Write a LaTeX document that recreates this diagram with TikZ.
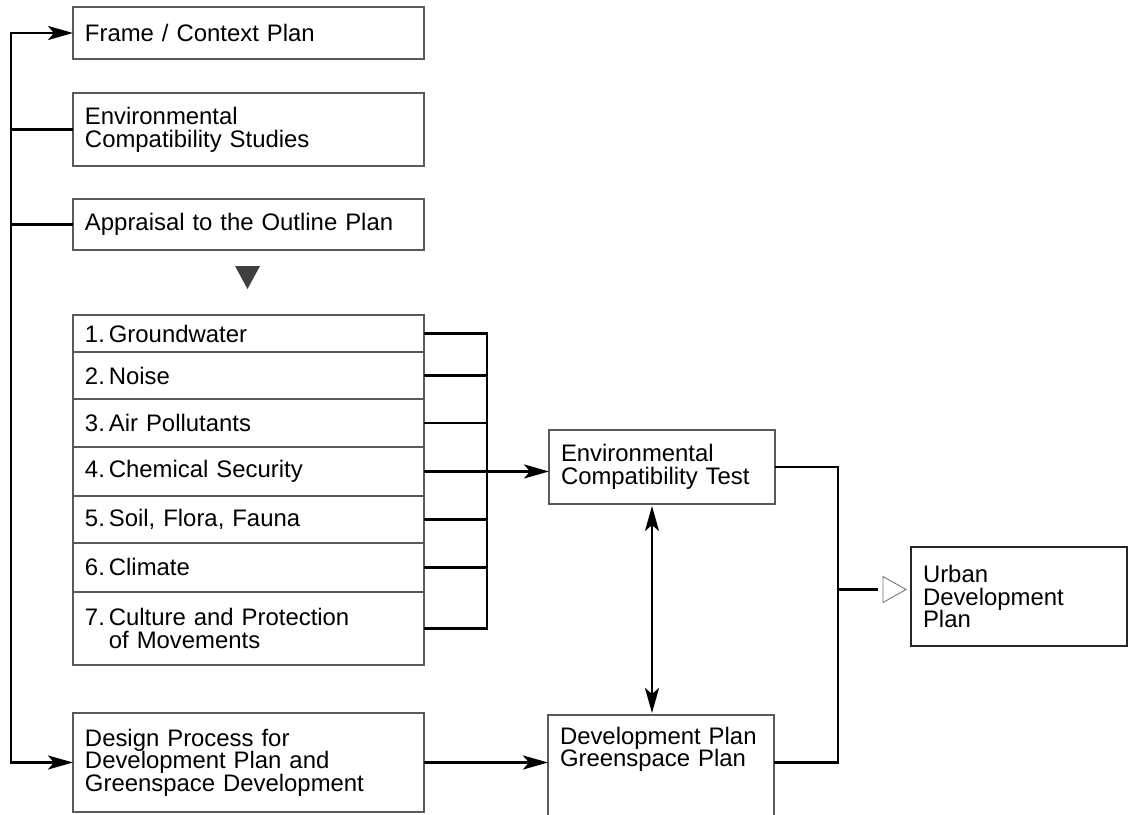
\documentclass[tikz,border=0pt]{standalone}
\usepackage{fontspec}
\setmainfont{Liberation Sans}
\usepackage{tikz}
\usetikzlibrary{arrows.meta, positioning, calc}

\begin{document}
\begin{tikzpicture}[
        x=0.02cm, y=-0.02cm,
        >={Stealth[length=0.5cm, width=0.28cm, inset=0.12cm]},
        boxstyle/.style={
            rectangle,
            draw=black!65,
            line width=0.7pt,
            anchor=north west,
            outer sep=0pt,
            inner xsep=0.24cm,
            inner ysep=0pt,
            align=left,
            font=\fontsize{13.6pt}{12.9pt}\selectfont
        },
        widebox/.style={boxstyle, minimum width=7.02cm, text width=6.54cm},
        rowbox/.style={widebox, anchor=north},
        midbox/.style={boxstyle, minimum width=4.52cm, text width=4.04cm},
        conn/.style={line width=1.6pt, color=black}
    ]
        \useasboundingbox (0,0) rectangle (1128,814);

        % left column
        \node[widebox, minimum height=1.04cm] (frame) at (73,7) {Frame / Context Plan};
        \node[widebox, minimum height=1.46cm] (studies) at (73,93) {Environmental\\Compatibility Studies};
        \node[widebox, minimum height=1.02cm] (appraisal) at (73,199) {Appraisal to the Outline Plan};
        \fill[black!75] (235,266) -- (260,266) -- (247.5,289) -- cycle;

        \node[widebox, minimum height=0.74cm] (r1) at (73,315) {1.\,Groundwater};
        \node[rowbox, minimum height=0.94cm, below=0pt of r1] (r2) {2.\,Noise};
        \node[rowbox, minimum height=0.96cm, below=0pt of r2] (r3) {3.\,Air Pollutants};
        \node[rowbox, minimum height=0.98cm, below=0pt of r3] (r4) {4.\,Chemical Security};
        \node[rowbox, minimum height=0.94cm, below=0pt of r4] (r5) {5.\,Soil, Flora, Fauna};
        \node[rowbox, minimum height=0.98cm, below=0pt of r5] (r6) {6.\,Climate};
        \node[rowbox, minimum height=1.46cm, below=0pt of r6] (r7) {7.\,Culture and Protection\\\hphantom{7.\,}of Movements};

        \node[widebox, minimum height=1.98cm] (design) at (73,713) {Design Process for\\Development Plan and\\Greenspace Development};

        % middle and right
        \node[midbox, minimum height=1.48cm] (test) at (549,430) {Environmental\\Compatibility Test};
        \node[midbox, inner ysep=0.24cm] (dev) at (548,715) {Development Plan\\Greenspace Plan\\\rule[-1cm]{0pt}{0.1cm}};
        \node[boxstyle, draw=black!85, minimum width=4.32cm, text width=3.84cm, minimum height=1.98cm] (urban) at (911,547) {Urban\\Development\\Plan};

        \coordinate (spine) at (11,0);
        \coordinate (lbus) at (487,0);
        \coordinate (rbus) at (838,0);
        \coordinate (dbl) at (652,0);
        \coordinate (umark) at (883,589.5);

        % connectors
        \draw[conn, <->] (frame.west) -- (frame.west -| spine) -- (design.west -| spine) -- (design.west);
        \draw[conn] (studies.west -| spine) -- (studies.west);
        \draw[conn] (appraisal.west -| spine) -- (appraisal.west);

        \draw[conn] (r1.east) -- (r1.east -| lbus) -- (r7.east -| lbus) -- (r7.east);
        \foreach \r in {r2,r3,r5,r6}
            \draw[conn] (\r.east) -- (\r.east -| lbus);
        \draw[conn, ->] (r4.east) -- (r4.east -| test.west);

        \draw[conn, ->] (design.east) -- (design.east -| dev.west);
        \draw[conn, <->, shorten <=0.04cm, shorten >=0.04cm] (test.south -| dbl) -- (dev.north -| dbl);

        \draw[conn] (test.east) -- (test.east -| rbus) -- (design.east -| rbus) -- (design.east -| dev.east);
        \draw[conn, shorten >=0.1cm] (umark -| rbus) -- (umark);
        \draw[black!55, line width=0.5pt] (umark) ++(0,-13) -- ++(23,13) -- ++(-23,13) -- cycle;
\end{tikzpicture}
\end{document}
